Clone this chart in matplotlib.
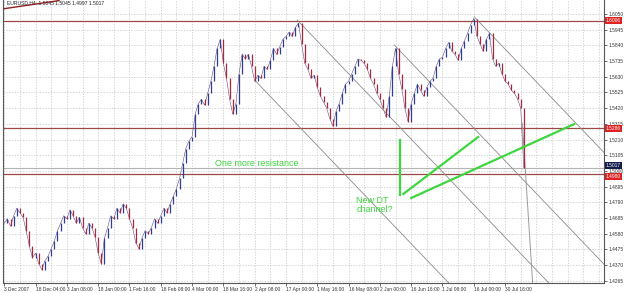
"""
EURUSD H4 - screenshot style chart with channel lines and notes
"""
import matplotlib
matplotlib.use("Agg")
from matplotlib import pyplot as plt
import numpy as np

plt.rcParams['font.family'] = ['Liberation Sans', 'DejaVu Sans']

title = "EURUSD,H4  1.5045 1.5045 1.4997 1.5017"

# closes (one bar ~ 6 H4 candles)
closes = [
    1.4650, 1.4680, 1.4630, 1.4700, 1.4750, 1.4720, 1.4690, 1.4600, 1.4500, 1.4420,
    1.4450, 1.4380, 1.4340, 1.4400, 1.4430, 1.4480, 1.4530, 1.4600, 1.4650, 1.4700,
    1.4680, 1.4740, 1.4700, 1.4650, 1.4690, 1.4620, 1.4580, 1.4650, 1.4620, 1.4560,
    1.4450, 1.4380, 1.4550, 1.4620, 1.4700, 1.4680, 1.4750, 1.4720, 1.4780, 1.4750,
    1.4680, 1.4620, 1.4520, 1.4480, 1.4550, 1.4600, 1.4580, 1.4620, 1.4680, 1.4650,
    1.4700, 1.4750, 1.4720, 1.4780, 1.4830, 1.4880, 1.4950, 1.5050, 1.5150, 1.5200,
    1.5230, 1.5380, 1.5450, 1.5480, 1.5440, 1.5520, 1.5600, 1.5700, 1.5820, 1.5880,
    1.5720, 1.5620, 1.5480, 1.5380, 1.5450, 1.5650, 1.5780, 1.5750, 1.5780, 1.5700,
    1.5600, 1.5640, 1.5620, 1.5700, 1.5680, 1.5740, 1.5820, 1.5780, 1.5830, 1.5880,
    1.5900, 1.5930, 1.5900, 1.5960, 1.5990, 1.5850, 1.5720, 1.5680, 1.5620, 1.5640,
    1.5560, 1.5500, 1.5460, 1.5420, 1.5350, 1.5300, 1.5400, 1.5450, 1.5520, 1.5580,
    1.5600, 1.5650, 1.5700, 1.5750, 1.5740, 1.5720, 1.5680, 1.5620, 1.5580, 1.5520,
    1.5480, 1.5420, 1.5360, 1.5500, 1.5700, 1.5820, 1.5650, 1.5550, 1.5420, 1.5330,
    1.5450, 1.5520, 1.5580, 1.5540, 1.5500, 1.5560, 1.5600, 1.5620, 1.5700, 1.5750,
    1.5760, 1.5820, 1.5860, 1.5800, 1.5780, 1.5740, 1.5820, 1.5870, 1.5920, 1.5980,
    1.6020, 1.5900, 1.5850, 1.5800, 1.5880, 1.5920, 1.5750, 1.5700, 1.5720, 1.5650,
    1.5600, 1.5580, 1.5540, 1.5520, 1.5480, 1.5420, 1.5017,
]

x_labels = ["3 Dec 2007", "18 Dec 04:00", "3 Jan 08:00", "18 Jan 00:00", "1 Feb 16:00",
            "18 Feb 08:00", "4 Mar 00:00", "18 Mar 16:00", "2 Apr 08:00", "17 Apr 00:00",
            "1 May 16:00", "16 May 08:00", "2 Jun 00:00", "16 Jun 16:00", "1 Jul 08:00",
            "16 Jul 00:00", "30 Jul 16:00"]
label_step = 10

y_ticks = [1.6050, 1.5945, 1.5840, 1.5735, 1.5630, 1.5525, 1.5420, 1.5315, 1.5210,
           1.5105, 1.5000, 1.4895, 1.4790, 1.4685, 1.4580, 1.4475, 1.4370, 1.4265]

# horizontal levels (red) and last price
levels = [1.6006, 1.5286, 1.4980]
last_price = 1.5017

# parallel down channel lines: start bar, start price
channel_starts = [(80.0, 1.5608), (93.6, 1.6010), (124.6, 1.5843), (150.2, 1.6030)]
channel_slope = -0.00219

# green sketch lines
green_lines = [
    ((126.5, 126.5), (1.5207, 1.4839)),
    ((127.5, 151.4), (1.4846, 1.5227)),
    ((130.0, 182.1), (1.4819, 1.5314)),
]

fig = plt.figure(figsize=(6.25, 2.93), dpi=100)
ax = fig.add_axes([3 / 625, 10 / 293, 601 / 625, 283 / 293])

x = np.arange(len(closes))
opens = np.array([closes[0]] + closes[:-1])
closes_a = np.array(closes)
up = closes_a >= opens
lo = np.minimum(opens, closes_a)
hi = np.maximum(opens, closes_a)
ax.vlines(x[up], lo[up], hi[up], colors="#2b3f95", linewidth=0.9, zorder=3)
ax.vlines(x[~up], lo[~up], hi[~up], colors="#a8283c", linewidth=0.9, zorder=3)
# thin connecting trace so the bars read as one dense series
ax.plot(x, closes_a, color="#6a4a7a", linewidth=0.4, zorder=2)

# grid
for gx in range(0, 195, label_step // 2):
    ax.axvline(gx, color="#c6c6c6", linewidth=0.5, linestyle=(0, (2, 2)), zorder=0)
for gy in y_ticks:
    ax.axhline(gy, color="#c6c6c6", linewidth=0.5, linestyle=(0, (2, 2)), zorder=0)

# levels
for lv in levels:
    ax.axhline(lv, color="#9c4848", linewidth=0.9, zorder=2)
ax.axhline(last_price, color="#b4b4b4", linewidth=0.8, zorder=2)

# channel lines
for bx, by in channel_starts:
    ax.plot([bx, 200], [by, by + channel_slope * (200 - bx)], color="#8a8a8a",
            linewidth=0.6, zorder=2)

# steep line at the end
ax.plot([165.5, 168.8], [1.5320, 1.4250], color="#9a9a9a", linewidth=0.7, zorder=2)
# little red line top left
ax.plot([-0.3, 17.5], [1.6085, 1.6140], color="#8b2020", linewidth=1.0, zorder=4)

for xs, ys in green_lines:
    ax.plot(xs, ys, color="#3ed63e", linewidth=1.6, zorder=5)

ax.text(67.4, 1.5047, "One more resistance", color="#3ed63e", fontsize=6.5,
        va="center", ha="left")
ax.text(112.5, 1.4772, "New DT\nchannel?", color="#3ed63e", fontsize=6.5,
        va="center", ha="left", linespacing=1.0)

ax.text(0.8, 1.6128, title, fontsize=3.6, color="#222222", va="center", ha="left")

ax.set_xlim(-0.4, 191.6)
ax.set_ylim(1.4250, 1.6144)

ax.yaxis.tick_right()
ax.set_yticks(y_ticks)
ax.set_yticklabels(["%.4f" % v for v in y_ticks])
ax.set_xticks(np.arange(len(x_labels)) * label_step)
ax.set_xticklabels(x_labels, ha="left")
ax.tick_params(axis="both", labelsize=3.5, length=2, width=0.5, pad=1.2, colors="#333333")

# price tags on the right (last price tag sits just above the 1.4980 tag)
tag_offsets = {1.6006: 0, 1.5286: 0, 1.4980: -1.8}
for lv in levels:
    ax.annotate("%.4f" % lv, xy=(1.0, lv), xycoords=("axes fraction", "data"),
                xytext=(1.2, tag_offsets[lv]), textcoords="offset points", fontsize=3.5,
                color="white", va="center", ha="left",
                bbox=dict(boxstyle="square,pad=0.2", fc="#dd2222", ec="none"))
ax.annotate("%.4f" % last_price, xy=(1.0, last_price), xycoords=("axes fraction", "data"),
            xytext=(1.2, 2.2), textcoords="offset points", fontsize=3.5, color="white",
            va="center", ha="left",
            bbox=dict(boxstyle="square,pad=0.2", fc="#141a4a", ec="none"))

for s in ["left", "right", "bottom"]:
    ax.spines[s].set_color("#555555")
    ax.spines[s].set_linewidth(0.8)
ax.spines["top"].set_visible(False)

fig.savefig("out.png", dpi=100)
